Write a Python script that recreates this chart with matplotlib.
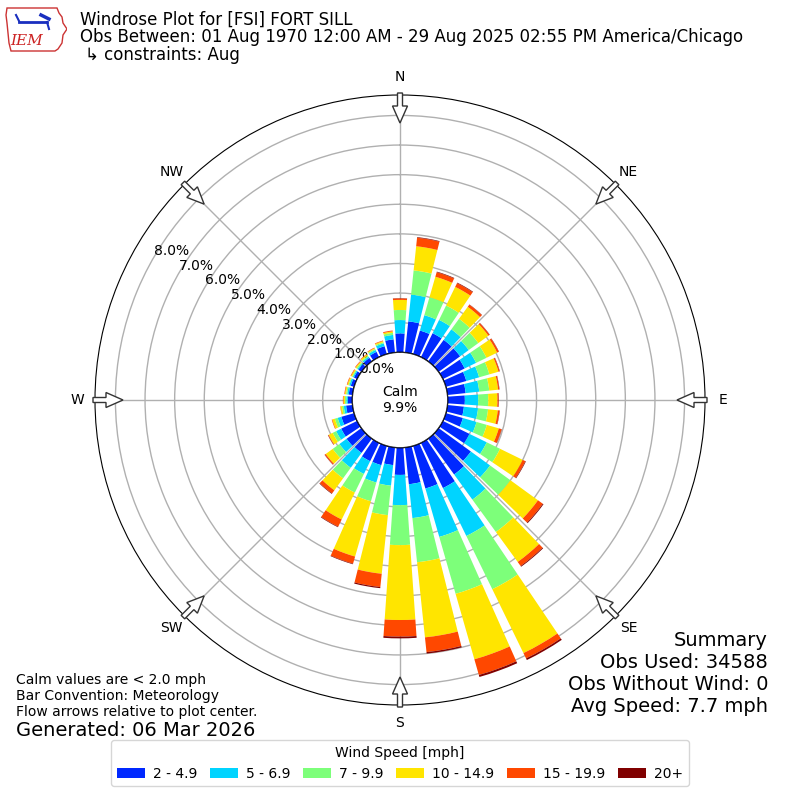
import numpy as np
import matplotlib
matplotlib.use("Agg")
import matplotlib.pyplot as plt
from matplotlib.patches import Circle, FancyArrow, Polygon

### wind directions (degrees, meteorology convention) and frequency [%] per speed class
directions = np.arange(0, 360, 10)
speed_labels = ["2 - 4.9", "5 - 6.9", "7 - 9.9", "10 - 14.9", "15 - 19.9", "20+"]
speed_colors = ["#0028ff", "#00d4ff", "#7dff7a", "#ffe500", "#ff4800", "#800000"]

spd_2_5 = [0.64, 1.06, 0.83, 0.90, 0.90, 0.90, 0.82, 0.72, 0.62, 0.58, 0.56, 0.60,
           1.00, 1.35, 1.50, 1.70, 1.50, 1.25, 0.92, 0.60, 0.68, 0.69, 0.60, 0.62,
           0.60, 0.45, 0.22, 0.15, 0.13, 0.12, 0.12, 0.13, 0.15, 0.20, 0.28, 0.45]
spd_5_7 = [0.45, 0.91, 0.54, 0.50, 0.44, 0.36, 0.43, 0.45, 0.46, 0.45, 0.48, 0.48,
           0.65, 0.80, 1.05, 1.80, 1.70, 1.15, 1.02, 0.70, 0.61, 0.48, 0.62, 0.30,
           0.19, 0.13, 0.08, 0.05, 0.05, 0.05, 0.04, 0.04, 0.05, 0.07, 0.10, 0.15]
spd_7_10 = [0.34, 0.82, 0.63, 0.54, 0.44, 0.40, 0.39, 0.36, 0.34, 0.34, 0.34, 0.36,
            0.50, 0.85, 1.35, 2.00, 2.00, 1.50, 1.35, 1.00, 0.66, 0.70, 0.44, 0.28,
            0.13, 0.10, 0.06, 0.05, 0.04, 0.03, 0.03, 0.04, 0.04, 0.04, 0.04, 0.07]
spd_10_15 = [0.34, 0.82, 0.72, 0.70, 0.50, 0.42, 0.40, 0.32, 0.30, 0.31, 0.33, 0.42,
             0.85, 1.15, 1.25, 2.40, 2.30, 2.55, 2.53, 1.99, 1.94, 1.01, 0.50, 0.29,
             0.15, 0.09, 0.05, 0.05, 0.04, 0.04, 0.04, 0.04, 0.05, 0.03, 0.04, 0.05]
spd_15_20 = [0.05, 0.29, 0.16, 0.14, 0.09, 0.05, 0.06, 0.04, 0.04, 0.04, 0.06, 0.10,
             0.10, 0.20, 0.17, 0.20, 0.55, 0.50, 0.56, 0.45, 0.25, 0.27, 0.13, 0.04,
             0.02, 0.02, 0.01, 0.02, 0.02, 0.02, 0.02, 0.02, 0.02, 0.02, 0.02, 0.03]
spd_20_up = [0.01, 0.02, 0.02, 0.02, 0.01, 0.01, 0.01, 0.01, 0.01, 0.01, 0.01, 0.01,
             0.02, 0.03, 0.03, 0.06, 0.07, 0.05, 0.06, 0.04, 0.02, 0.02, 0.02, 0.01,
             0.01, 0.00, 0.00, 0.00, 0.00, 0.00, 0.00, 0.00, 0.00, 0.00, 0.00, 0.00]

calm_pct = 9.9
rings = np.arange(0, 9)
compass = ["N", "NE", "E", "SE", "S", "SW", "W", "NW"]

fig = plt.figure(figsize=(8, 8), dpi=100)

### polar axes, centre at (400, 400) px, radius 305 px
ax = fig.add_axes([95 / 800, 95 / 800, 610 / 800, 610 / 800], projection="polar")
ax.set_theta_zero_location("N")
ax.set_theta_direction(-1)

theta = np.deg2rad(directions)
bottom = np.zeros(len(directions))
for vals, col, lab in zip([spd_2_5, spd_5_7, spd_7_10, spd_10_15, spd_15_20, spd_20_up],
                          speed_colors, speed_labels):
    vals = np.array(vals)
    ax.bar(theta, vals, width=np.deg2rad(8), bottom=bottom, color=col,
           label=lab, zorder=3, linewidth=0)
    bottom = bottom + vals

ax.set_ylim(0, 8.69)
ax.set_rorigin(-1.61)
ax.set_yticks(rings)
ax.set_yticklabels(["%.1f%%" % r for r in rings], fontsize=10)
ax.set_rlabel_position(300)
ax.set_xticks(np.deg2rad(np.arange(0, 360, 45)))
ax.set_xticklabels(compass, fontsize=10)
ax.tick_params(axis="x", pad=2.5)
ax.grid(True, color="#b0b0b0", linewidth=1)

### calm circle in the middle
ax.add_patch(Circle((0.5, 0.5), 47.7 / 610, transform=ax.transAxes, fc="white",
                    ec="black", lw=1, zorder=4))
ax.text(0.5, 0.5, "Calm\n%.1f%%" % calm_pct, transform=ax.transAxes, ha="center",
        va="center", fontsize=10, zorder=5)

### hollow arrows at the compass points
for ang in np.deg2rad(np.arange(0, 360, 45)):
    ux, uy = np.sin(ang), np.cos(ang)
    r0 = 307 / 610
    ar = FancyArrow(0.5 + r0 * ux, 0.5 + r0 * uy, -ux * 30 / 610, -uy * 30 / 610,
                    width=5 / 610, head_width=15 / 610, head_length=17 / 610,
                    length_includes_head=True, fc="white", ec="#333333", lw=1,
                    transform=ax.transAxes, clip_on=False, zorder=6)
    ax.add_patch(ar)

### titles
fig.text(80 / 800, 1 - 20 / 800, "Windrose Plot for [FSI] FORT SILL", fontsize=12, va="center")
fig.text(80 / 800, 1 - 37.5 / 800,
         "Obs Between: 01 Aug 1970 12:00 AM - 29 Aug 2025 02:55 PM America/Chicago",
         fontsize=12, va="center")
fig.text(85 / 800, 1 - 55 / 800, "\u21b3 constraints: Aug", fontsize=12, va="center")

### logo (rough)
lax = fig.add_axes([5 / 800, 1 - 52 / 800, 62 / 800, 47 / 800])
lax.set_xlim(0, 62)
lax.set_ylim(47, 0)
lax.axis("off")
iowa = [(2, 3), (52, 3), (54, 8), (57, 12), (58, 18), (62, 24), (58, 30), (57, 38),
        (53, 44), (50, 46), (6, 46), (4, 38), (3, 28), (2, 18), (1, 10)]
lax.add_patch(Polygon(iowa, closed=True, fill=False, ec="#cc3333", lw=1))
lax.plot([14, 42], [17, 17], color="#1a2fbf", lw=2)
lax.plot([11, 14], [10, 16], color="#1a2fbf", lw=1.5)
lax.plot([36, 44], [10, 14], color="#1a2fbf", lw=2.5)
lax.plot([42, 44], [17, 24], color="#1a2fbf", lw=1.5)
lax.text(22, 36, "IEM", color="#cc2222", fontsize=11, family="DejaVu Serif",
         style="italic", ha="center", va="center")

### summary block
summary = ["Summary", "Obs Used: 34588", "Obs Without Wind: 0", "Avg Speed: 7.7 mph"]
for i, line in enumerate(summary):
    fig.text(768 / 800, 1 - (640 + 22 * i) / 800, line, fontsize=14, ha="right", va="center")

notes = ["Calm values are < 2.0 mph", "Bar Convention: Meteorology",
         "Flow arrows relative to plot center."]
for i, line in enumerate(notes):
    fig.text(16 / 800, 1 - (680 + 16 * i) / 800, line, fontsize=10, va="center")
fig.text(16 / 800, 1 - 730 / 800, "Generated: 06 Mar 2026", fontsize=14, va="center")

### legend
handles, labels = ax.get_legend_handles_labels()
fig.legend(handles, labels, loc="lower center", bbox_to_anchor=(0.5, 0.012), ncol=6,
           title="Wind Speed [mph]", fontsize=10, title_fontsize=10,
           columnspacing=0.9, handletextpad=0.6, borderaxespad=0.3)

plt.savefig("out.png", dpi=100)
